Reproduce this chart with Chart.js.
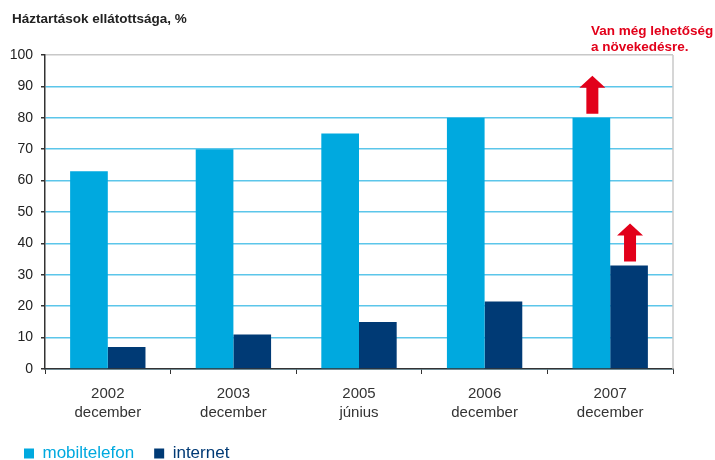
<!DOCTYPE html>
<html>
<head>
<meta charset="utf-8">
<script src="https://cdn.jsdelivr.net/npm/chart.js@4"></script>
<style>
  html, body { margin: 0; padding: 0; background: #fff; }
  #wrap { width: 715px; height: 460px; }
</style>
</head>
<body>
<div id="wrap"><canvas id="households"></canvas></div>
<script>
"use strict";

const categories = [
  ['2002', 'december'],
  ['2003', 'december'],
  ['2005', 'június'],
  ['2006', 'december'],
  ['2007', 'december'],
];
const mobilValues = [63, 70, 75, 80, 80];
const internetValues = [7, 11, 15, 21.5, 33];
const yTicks = [0, 10, 20, 30, 40, 50, 60, 70, 80, 90, 100];

const LIGHT = '#00a9df';
const DARK = '#003a75';
const RED = '#e2001a';
const FONT = '"Liberation Sans", Arial, Helvetica, sans-serif';

// heading, red note with arrows over the last pair of bars, right border line
const extras = {
  id: 'extras',
  afterDatasetsDraw(chart) {
    const ctx = chart.ctx;
    const area = chart.chartArea;
    ctx.save();
    ctx.strokeStyle = '#c8c8c8';
    ctx.lineWidth = 1.5;
    ctx.beginPath();
    ctx.moveTo(area.right, area.top);
    ctx.lineTo(area.right, area.bottom);
    ctx.stroke();

    [0, 1].forEach(function (ds) {
      const bar = chart.getDatasetMeta(ds).data[4];
      const x = bar.x + 1;
      const bottom = bar.y - 4;
      const tip = bottom - 38;
      ctx.fillStyle = RED;
      ctx.beginPath();
      ctx.moveTo(x - 6, bottom);
      ctx.lineTo(x - 6, tip + 12);
      ctx.lineTo(x - 13, tip + 12);
      ctx.lineTo(x, tip);
      ctx.lineTo(x + 13, tip + 12);
      ctx.lineTo(x + 6, tip + 12);
      ctx.lineTo(x + 6, bottom);
      ctx.closePath();
      ctx.fill();
    });

    ctx.textBaseline = 'middle';
    ctx.textAlign = 'left';
    ctx.fillStyle = '#222';
    ctx.font = 'bold 13.5px ' + FONT;
    ctx.fillText('Háztartások ellátottsága, %', 12, 19);

    ctx.fillStyle = RED;
    ctx.font = 'bold 13.5px ' + FONT;
    ctx.fillText('Van még lehetőség', 591, 31);
    ctx.fillText('a növekedésre.', 591, 47);
    ctx.restore();
  }
};

new Chart(document.getElementById('households'), {
  type: 'bar',
  data: {
    labels: categories,
    datasets: [
      {
        label: 'mobiltelefon',
        data: mobilValues,
        backgroundColor: LIGHT,
        categoryPercentage: 0.6,
        barPercentage: 1.0,
      },
      {
        label: 'internet',
        data: internetValues,
        backgroundColor: DARK,
        categoryPercentage: 0.6,
        barPercentage: 1.0,
      },
    ],
  },
  options: {
    responsive: true,
    maintainAspectRatio: false,
    animation: false,
    layout: {
      padding: { left: 4, right: 42, top: 55, bottom: -12 },
    },
    plugins: {
      legend: {
        position: 'bottom',
        align: 'start',
        labels: {
          boxWidth: 10,
          boxHeight: 10,
          padding: 20,
          font: { family: FONT, size: 17 },
          generateLabels(chart) {
            const items = Chart.defaults.plugins.legend.labels.generateLabels(chart);
            items.forEach(function (it, i) {
              it.fontColor = i === 0 ? LIGHT : DARK;
            });
            return items;
          },
        },
      },
      tooltip: { enabled: false },
    },
    scales: {
      x: {
        grid: {
          drawOnChartArea: false,
          tickLength: 5,
          tickColor: '#333',
        },
        border: { color: '#333', width: 1.5 },
        ticks: {
          color: '#333',
          padding: 10,
          font: { family: FONT, size: 15, lineHeight: 1.27 },
        },
        afterFit(scale) { scale.height = 56; },
      },
      y: {
        min: 0,
        max: 100,
        afterBuildTicks(scale) {
          scale.ticks = yTicks.map(function (v) { return { value: v }; });
        },
        grid: {
          color(c) { return c.tick && c.tick.value === 100 ? '#c8c8c8' : '#5cc6ea'; },
          lineWidth: 1.5,
          tickLength: 4,
          tickColor: '#333',
        },
        border: { color: '#333', width: 1.5 },
        ticks: {
          color: '#222',
          padding: 8,
          font: { family: FONT, size: 14 },
        },
        afterFit(scale) { scale.width = 41; },
      },
    },
  },
  plugins: [extras],
});
</script>
</body>
</html>
